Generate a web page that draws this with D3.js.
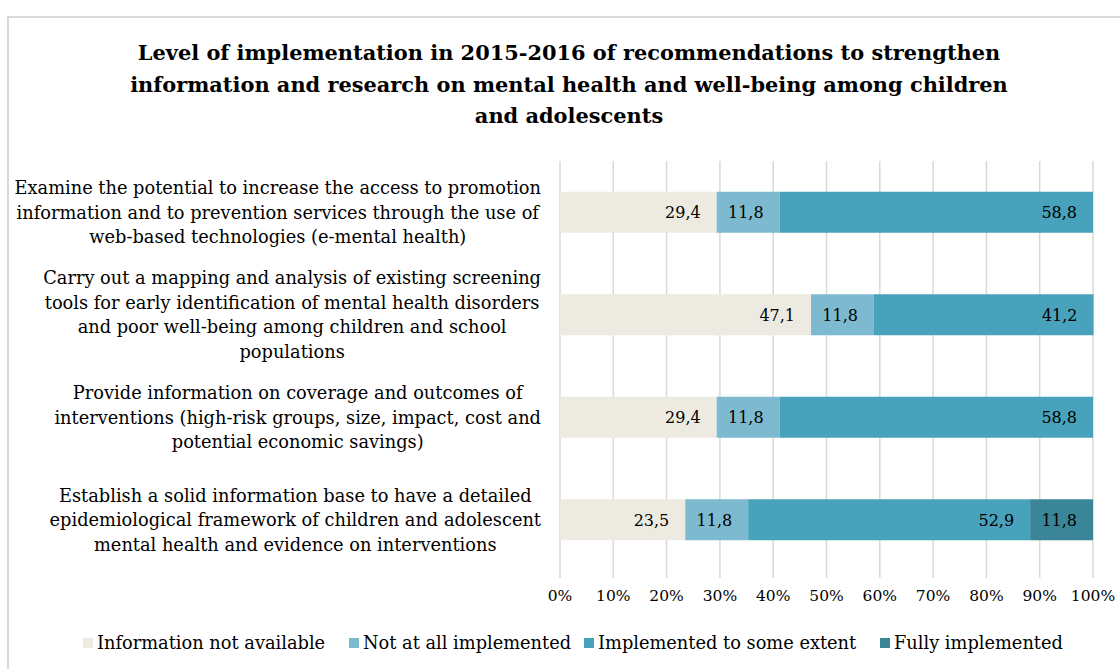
<!DOCTYPE html>
<html>
<head>
<meta charset="utf-8">
<script src="https://cdn.jsdelivr.net/npm/d3@7"></script>
<style>
  html, body { margin: 0; padding: 0; background: #fff; }
  svg { display: block; }
  text { font-family: "DejaVu Serif", "Liberation Serif", serif; fill: #000; }
</style>
</head>
<body>
<svg id="chart" width="1120" height="669"></svg>
<script>
// Recommendations (each label wrapped into its display lines)
const categories = [
  ["Examine the potential to increase the access to promotion",
   "information and to prevention services through the use of",
   "web-based technologies (e-mental health)"],
  ["Carry out a mapping and analysis of existing screening",
   "tools for early identification of mental health disorders",
   "and poor well-being among children and school",
   "populations"],
  ["Provide information on coverage and outcomes of",
   "interventions (high-risk groups, size, impact, cost and",
   "potential economic savings)"],
  ["Establish a solid information base to have a detailed",
   "epidemiological framework of children and adolescent",
   "mental health and evidence on interventions"]
];

const seriesNames = ["Information not available", "Not at all implemented",
                     "Implemented to some extent", "Fully implemented"];
const notAvailable   = [29.4, 47.1, 29.4, 23.5];
const notImplemented = [11.8, 11.8, 11.8, 11.8];
const someExtent     = [58.8, 41.2, 58.8, 52.9];
const fully          = [0, 0, 0, 11.8];
const seriesColors   = ["#EDEBE1", "#7EBACF", "#48A2BB", "#3A8598"];

const xTicks = [0, 10, 20, 30, 40, 50, 60, 70, 80, 90, 100];
const titleLines = [
  "Level of implementation in 2015-2016 of recommendations to strengthen",
  "information and research on mental health and well-being among children",
  "and adolescents"
];

const svg = d3.select("#chart");

// outer frame
svg.append("rect")
  .attr("x", 8).attr("y", 17).attr("width", 1200).attr("height", 800)
  .attr("fill", "none").attr("stroke", "#d9d9d9").attr("stroke-width", 2);

// title
svg.append("text")
  .attr("text-anchor", "middle")
  .style("font-weight", "bold").style("font-size", "20.9px")
  .selectAll("tspan").data(titleLines).join("tspan")
  .attr("x", 569).attr("y", (d, i) => 60 + i * 31.5)
  .text(d => d);

const x = d3.scaleLinear().domain([0, 100]).range([560, 1093]);
const y = d3.scaleBand().domain(d3.range(categories.length))
  .range([161, 571]).paddingInner(0.6).paddingOuter(0.3);

// vertical gridlines
svg.append("g").selectAll("line").data(xTicks).join("line")
  .attr("x1", d => x(d)).attr("x2", d => x(d))
  .attr("y1", 161).attr("y2", 578)
  .attr("stroke", "#d9d9d9").attr("stroke-width", 1.5);

// stacked bars
const series = [notAvailable, notImplemented, someExtent, fully];
const stacked = categories.map((c, i) => {
  let acc = 0;
  return series.map((s, k) => {
    const seg = { row: i, k, v: s[i], x0: acc, x1: acc + s[i] };
    acc += s[i];
    return seg;
  });
}).flat().filter(d => d.v > 0);

svg.append("g").selectAll("rect").data(stacked).join("rect")
  .attr("x", d => x(d.x0)).attr("width", d => x(d.x1) - x(d.x0))
  .attr("y", d => y(d.row)).attr("height", y.bandwidth())
  .attr("fill", d => seriesColors[d.k]);

// value labels at the inside end of each segment
const fmt = v => d3.format(".1f")(v).replace(".", ",");
svg.append("g").selectAll("text").data(stacked).join("text")
  .attr("x", d => x(d.x1) - 16)
  .attr("y", d => y(d.row) + y.bandwidth() / 2)
  .attr("dy", "0.36em").attr("text-anchor", "end")
  .style("font-size", "16px")
  .text(d => fmt(d.v));

// x-axis tick labels
svg.append("g").selectAll("text").data(xTicks).join("text")
  .attr("x", d => x(d)).attr("y", 601)
  .attr("text-anchor", "middle").style("font-size", "15.5px")
  .text(d => d + "%");

// category labels: each block centered on its widest line, right edge at 541
const lineH = 24.5;
categories.forEach((lines, i) => {
  const g = svg.append("text").style("font-size", "17.8px").attr("text-anchor", "middle");
  const cy = y(i) + y.bandwidth() / 2;
  const top = cy - (lines.length - 1) * lineH / 2;
  const spans = g.selectAll("tspan").data(lines).join("tspan")
    .attr("y", (d, j) => top + j * lineH).attr("dy", "0.36em").text(d => d);
  let w = 0;
  spans.each(function () { w = Math.max(w, this.getComputedTextLength()); });
  spans.attr("x", 541 - w / 2);
});

// legend
const legendX = [83, 349, 584, 880];
const lg = svg.append("g").selectAll("g").data(seriesNames).join("g")
  .attr("transform", (d, i) => `translate(${legendX[i]},643)`);
lg.append("rect").attr("x", 0).attr("y", -5).attr("width", 10).attr("height", 10)
  .attr("fill", (d, i) => seriesColors[i]);
lg.append("text").attr("x", 14).attr("dy", "0.36em").style("font-size", "17.8px")
  .text(d => d);
</script>
</body>
</html>
